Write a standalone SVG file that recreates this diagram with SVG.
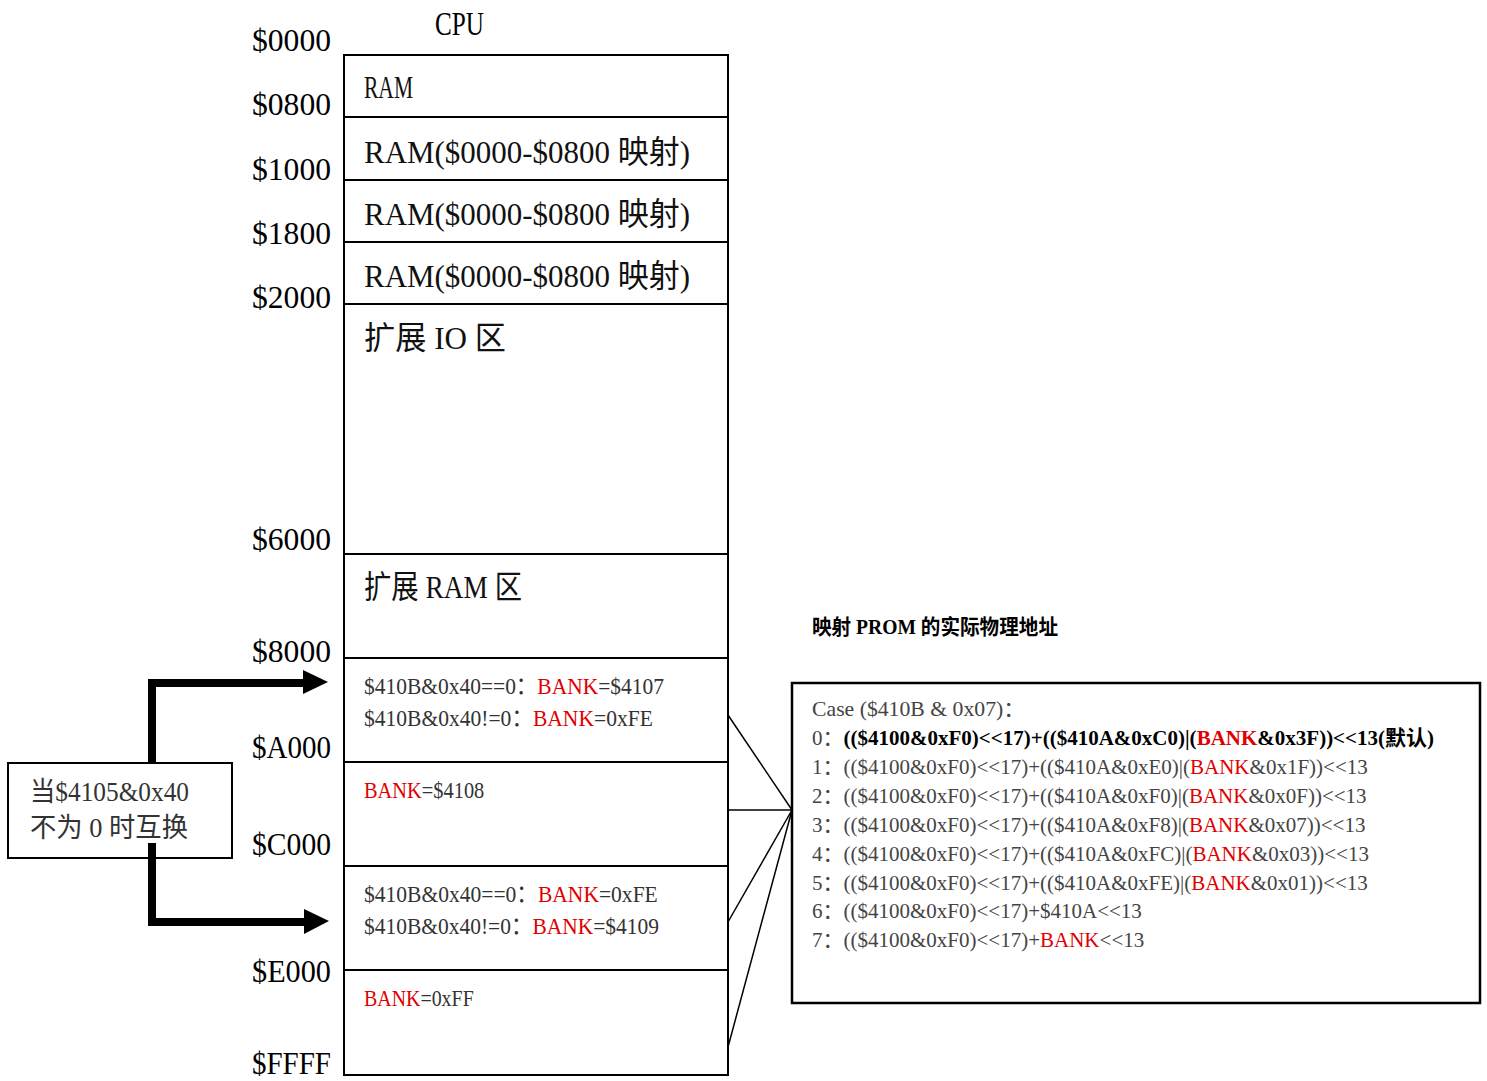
<svg xmlns="http://www.w3.org/2000/svg" width="1487" height="1081" viewBox="0 0 1487 1081">
<style>
text{font-family:"Liberation Serif","Noto Sans CJK SC",serif;}
.addr{font-size:32px;fill:#000;text-anchor:end;}
.big{font-size:32px;fill:#111;}
.mid{font-size:24px;fill:#333;}
.sm{font-size:21px;fill:#444;}
.b{font-weight:bold;fill:#000;}
.r{fill:#e00000;}
.box{fill:#fff;stroke:#000;stroke-width:2;}
.ln{stroke:#000;stroke-width:1.5;fill:none;}
.thick{fill:none;stroke:#000;stroke-width:8;}
</style>
<rect width="1487" height="1081" fill="#fff"/>
<g id="labels">
<text x="435" y="35" font-size="34" textLength="49" lengthAdjust="spacingAndGlyphs">CPU</text>
<text class="addr" x="331" y="51" textLength="79" lengthAdjust="spacingAndGlyphs">$0000</text>
<text class="addr" x="331" y="115" textLength="79" lengthAdjust="spacingAndGlyphs">$0800</text>
<text class="addr" x="331" y="180" textLength="79" lengthAdjust="spacingAndGlyphs">$1000</text>
<text class="addr" x="331" y="244" textLength="79" lengthAdjust="spacingAndGlyphs">$1800</text>
<text class="addr" x="331" y="308" textLength="79" lengthAdjust="spacingAndGlyphs">$2000</text>
<text class="addr" x="331" y="550" textLength="79" lengthAdjust="spacingAndGlyphs">$6000</text>
<text class="addr" x="331" y="662" textLength="79" lengthAdjust="spacingAndGlyphs">$8000</text>
<text class="addr" x="331" y="758" textLength="79" lengthAdjust="spacingAndGlyphs">$A000</text>
<text class="addr" x="331" y="855" textLength="79" lengthAdjust="spacingAndGlyphs">$C000</text>
<text class="addr" x="331" y="982" textLength="79" lengthAdjust="spacingAndGlyphs">$E000</text>
<text class="addr" x="331" y="1074" textLength="79" lengthAdjust="spacingAndGlyphs">$FFFF</text>
</g>
<g id="mem-0000">
<rect class="box" x="344" y="55" width="384" height="62"/>
<text class="big" x="364" y="98" textLength="49" lengthAdjust="spacingAndGlyphs">RAM</text>
</g>
<g id="mem-0800">
<rect class="box" x="344" y="117" width="384" height="63"/>
<text class="big" x="364" y="163" textLength="326" lengthAdjust="spacingAndGlyphs">RAM($0000-$0800 映射)</text>
</g>
<g id="mem-1000">
<rect class="box" x="344" y="180" width="384" height="62"/>
<text class="big" x="364" y="225" textLength="326" lengthAdjust="spacingAndGlyphs">RAM($0000-$0800 映射)</text>
</g>
<g id="mem-1800">
<rect class="box" x="344" y="242" width="384" height="62"/>
<text class="big" x="364" y="287" textLength="326" lengthAdjust="spacingAndGlyphs">RAM($0000-$0800 映射)</text>
</g>
<g id="mem-2000">
<rect class="box" x="344" y="304" width="384" height="250"/>
<text class="big" x="364" y="349" textLength="142" lengthAdjust="spacingAndGlyphs">扩展 IO 区</text>
</g>
<g id="mem-6000">
<rect class="box" x="344" y="554" width="384" height="104"/>
<text class="big" x="364" y="598" textLength="158" lengthAdjust="spacingAndGlyphs">扩展 RAM 区</text>
</g>
<g id="mem-8000">
<rect class="box" x="344" y="658" width="384" height="104"/>
<text class="mid" transform="translate(364,694) scale(0.895,1)">$410B&amp;0x40==0：<tspan class="r">BANK</tspan>=$4107</text>
<text class="mid" transform="translate(364,726) scale(0.898,1)">$410B&amp;0x40!=0：<tspan class="r">BANK</tspan>=0xFE</text>
</g>
<g id="mem-A000">
<rect class="box" x="344" y="762" width="384" height="104"/>
<text class="mid" transform="translate(364,798) scale(0.85,1)"><tspan class="r">BANK</tspan>=$4108</text>
</g>
<g id="mem-C000">
<rect class="box" x="344" y="866" width="384" height="104"/>
<text class="mid" transform="translate(364,902) scale(0.898,1)">$410B&amp;0x40==0：<tspan class="r">BANK</tspan>=0xFE</text>
<text class="mid" transform="translate(364,934) scale(0.895,1)">$410B&amp;0x40!=0：<tspan class="r">BANK</tspan>=$4109</text>
</g>
<g id="mem-E000">
<rect class="box" x="344" y="970" width="384" height="105"/>
<text class="mid" transform="translate(364,1006) scale(0.83,1)"><tspan class="r">BANK</tspan>=0xFF</text>
</g>
<g id="swap">
<rect class="box" x="8" y="763" width="224" height="95"/>
<text x="30" y="801" font-size="27" fill="#333" textLength="159" lengthAdjust="spacingAndGlyphs">当$4105&amp;0x40</text>
<text x="30" y="837" font-size="27" fill="#333" textLength="158" lengthAdjust="spacingAndGlyphs">不为 0 时互换</text>
</g>
<g id="prom">
<text x="812" y="634" font-size="21" font-weight="bold" fill="#000" textLength="246" lengthAdjust="spacingAndGlyphs">映射 PROM 的实际物理地址</text>
<rect x="792" y="683" width="688" height="320" fill="#fff" stroke="#000" stroke-width="2.5"/>
<text class="sm" x="812" y="716" textLength="213" lengthAdjust="spacingAndGlyphs">Case ($410B &amp; 0x07)：</text>
<text class="sm" x="812" y="745">0：<tspan class="b">(($4100&amp;0xF0)&lt;&lt;17)+(($410A&amp;0xC0)|(<tspan class="r">BANK</tspan>&amp;0x3F))&lt;&lt;13(默认)</tspan></text>
<text class="sm" x="812" y="774">1：(($4100&amp;0xF0)&lt;&lt;17)+(($410A&amp;0xE0)|(<tspan class="r">BANK</tspan>&amp;0x1F))&lt;&lt;13</text>
<text class="sm" x="812" y="803">2：(($4100&amp;0xF0)&lt;&lt;17)+(($410A&amp;0xF0)|(<tspan class="r">BANK</tspan>&amp;0x0F))&lt;&lt;13</text>
<text class="sm" x="812" y="832">3：(($4100&amp;0xF0)&lt;&lt;17)+(($410A&amp;0xF8)|(<tspan class="r">BANK</tspan>&amp;0x07))&lt;&lt;13</text>
<text class="sm" x="812" y="861">4：(($4100&amp;0xF0)&lt;&lt;17)+(($410A&amp;0xFC)|(<tspan class="r">BANK</tspan>&amp;0x03))&lt;&lt;13</text>
<text class="sm" x="812" y="890">5：(($4100&amp;0xF0)&lt;&lt;17)+(($410A&amp;0xFE)|(<tspan class="r">BANK</tspan>&amp;0x01))&lt;&lt;13</text>
<text class="sm" x="812" y="918">6：(($4100&amp;0xF0)&lt;&lt;17)+$410A&lt;&lt;13</text>
<text class="sm" x="812" y="947">7：(($4100&amp;0xF0)&lt;&lt;17)+<tspan class="r">BANK</tspan>&lt;&lt;13</text>
</g>
<g id="connectors">
<polyline class="thick" points="152,762 152,683 305,683"/>
<polygon points="303,670 328,682 303,694" fill="#000"/>
<polyline class="thick" points="152,843 152,922 305,922"/>
<polygon points="304,909 329,921 304,934" fill="#000"/>
<line class="ln" x1="728" y1="715" x2="792" y2="810"/>
<line class="ln" x1="728" y1="810" x2="792" y2="810"/>
<line class="ln" x1="728" y1="922" x2="792" y2="810"/>
<line class="ln" x1="728" y1="1047" x2="792" y2="810"/>
</g>
</svg>
